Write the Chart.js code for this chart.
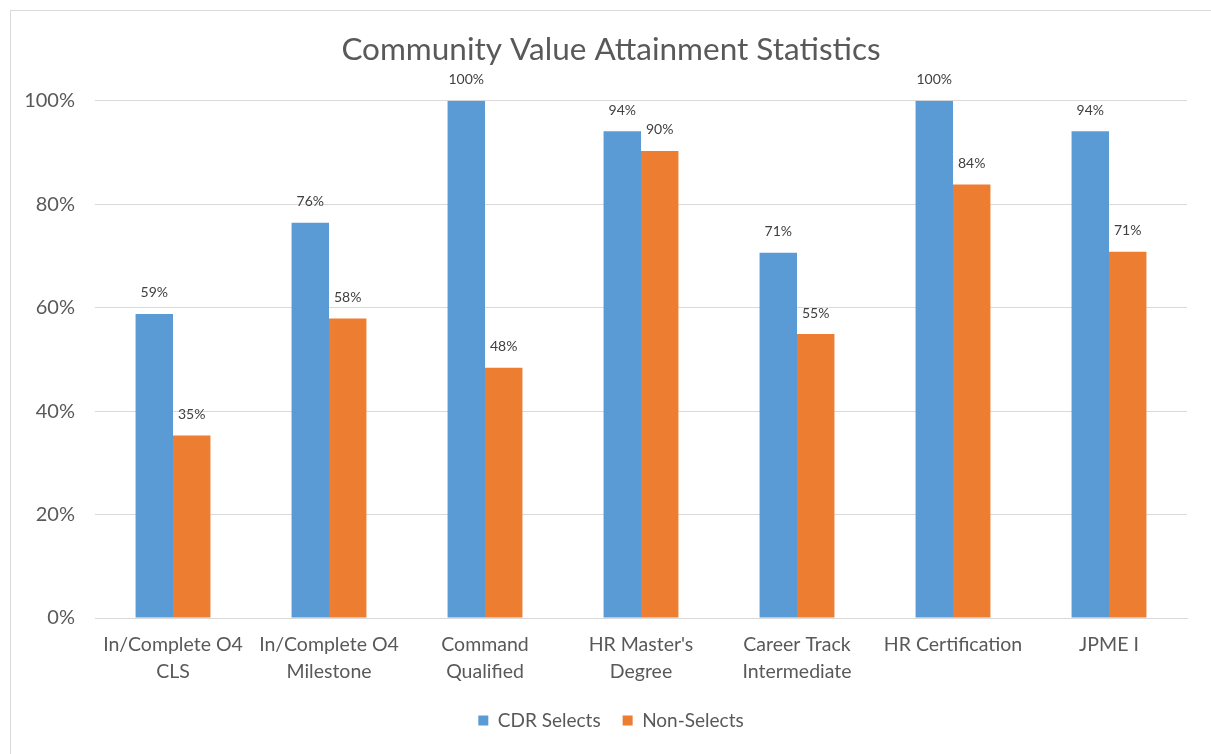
<!DOCTYPE html>
<html>
<head>
<meta charset="utf-8">
<script src="https://cdn.jsdelivr.net/npm/chart.js@4.4.0/dist/chart.umd.min.js"></script>
<style>
  html, body { margin: 0; padding: 0; background: #fff; overflow: hidden; }
  #frame {
    position: absolute; left: 10px; top: 10px;
    width: 1300px; height: 900px;
    border: 1px solid #d9d9d9;
  }
  #wrap { position: absolute; left: 11px; top: 11px; width: 1200px; height: 743px; }
</style>
</head>
<body>
<div id="frame"></div>
<div id="wrap"><canvas id="chart"></canvas></div>
<script>
const categories = [
  ['In/Complete O4', 'CLS'],
  ['In/Complete O4', 'Milestone'],
  ['Command', 'Qualified'],
  ["HR Master's", 'Degree'],
  ['Career Track', 'Intermediate'],
  'HR Certification',
  'JPME I'
];
const cdrSelects = [58.8, 76.4, 100, 94.1, 70.6, 100, 94.1];
const nonSelects = [35.3, 57.9, 48.4, 90.3, 54.9, 83.8, 70.8];
const yTicks = [0, 20, 40, 60, 80, 100];

const FONT = 'Lato, "Open Sans", sans-serif';

// draws the percentage above each bar
const barLabels = {
  id: 'barLabels',
  afterDatasetsDraw(chart) {
    const ctx = chart.ctx;
    ctx.save();
    ctx.font = '14px ' + FONT;
    ctx.fillStyle = '#404040';
    ctx.textAlign = 'center';
    ctx.textBaseline = 'middle';
    chart.data.datasets.forEach((ds, i) => {
      chart.getDatasetMeta(i).data.forEach((bar, j) => {
        ctx.fillText(Math.round(ds.data[j]) + '%', bar.x, bar.y - 21);
      });
    });
    ctx.restore();
  }
};

new Chart(document.getElementById('chart'), {
  type: 'bar',
  data: {
    labels: categories,
    datasets: [
      { label: 'CDR Selects', data: cdrSelects, backgroundColor: '#5B9BD5' },
      { label: 'Non-Selects', data: nonSelects, backgroundColor: '#ED7D31' }
    ]
  },
  options: {
    responsive: true,
    maintainAspectRatio: false,
    animation: false,
    layout: { padding: { left: 0, right: 0, top: 0, bottom: 14 } },
    datasets: { bar: { categoryPercentage: 0.48, barPercentage: 1 } },
    plugins: {
      title: {
        display: true,
        text: 'Community Value Attainment Statistics',
        color: '#595959',
        font: { family: FONT, size: 31.5, weight: 'normal' },
        padding: { top: 20, bottom: 32 }
      },
      legend: {
        position: 'bottom',
        labels: {
          color: '#595959',
          font: { family: FONT, size: 19 },
          boxWidth: 10,
          boxHeight: 10,
          padding: 22
        }
      },
      tooltip: { enabled: false }
    },
    scales: {
      x: {
        grid: { display: false, drawTicks: false },
        border: { color: '#d9d9d9' },
        ticks: {
          color: '#595959',
          font: { family: FONT, size: 19.5, lineHeight: 1.38 },
          padding: 13,
          maxRotation: 0,
          autoSkip: false
        },
        afterFit(scale) { scale.height = 71; }
      },
      y: {
        min: 0,
        max: 100,
        afterBuildTicks(scale) { scale.ticks = yTicks.map(v => ({ value: v })); },
        grid: { color: '#d9d9d9', drawTicks: false },
        border: { display: false },
        ticks: {
          color: '#595959',
          font: { family: FONT, size: 20 },
          padding: 20,
          callback: v => v + '%'
        },
        afterFit(scale) { scale.width = 84; }
      },
      // empty right-hand spacer so the title and legend stay centred on the canvas
      yRight: {
        position: 'right',
        grid: { display: false, drawTicks: false },
        border: { display: false },
        ticks: { display: false },
        afterFit(scale) { scale.width = 24; }
      }
    }
  },
  plugins: [barLabels]
});
</script>
</body>
</html>
